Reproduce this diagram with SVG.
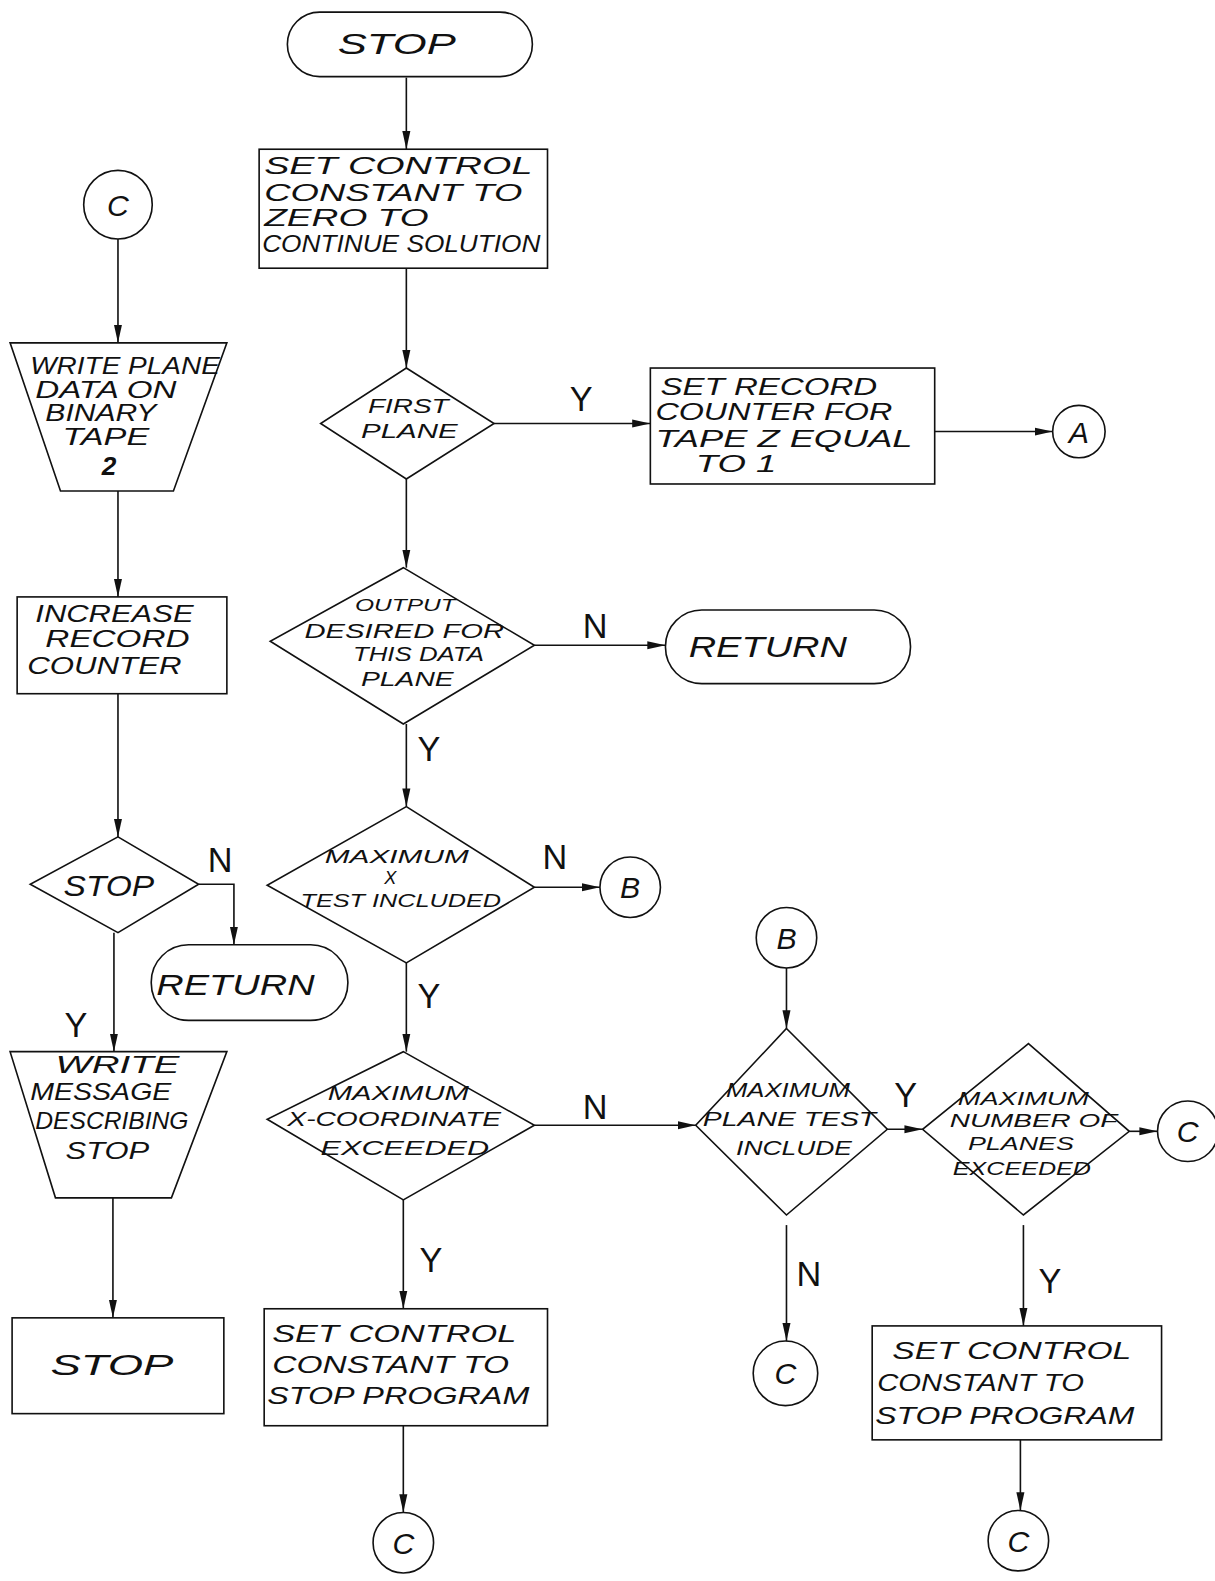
<svg xmlns="http://www.w3.org/2000/svg" width="1215" height="1581" viewBox="0 0 1215 1581">
<style>
.s{fill:none;stroke:#111;stroke-width:1.6}
.t{font-family:"Liberation Sans",Arial,sans-serif;font-style:italic;font-size:23px;fill:#111}
.d{font-size:20px}
.b{font-size:30px}
.l{font-family:"Liberation Sans",Arial,sans-serif;font-size:34px;fill:#111}
.c{fill:none;stroke:#111;stroke-width:1.6}
.a{fill:none;stroke:#111;stroke-width:1.6;marker-end:url(#ah)}
</style>
<defs>
<marker id="ah" markerUnits="userSpaceOnUse" markerWidth="20" markerHeight="10" refX="18" refY="5" orient="auto">
<path d="M0,1 L18,5 L0,9 z" fill="#111"/>
</marker>
</defs>
<rect width="1215" height="1581" fill="#fff"/>
<g transform="scale(1.0083)">
<g id="connectors">
<path class="a" d="M403,77 V148"/>
<path class="a" d="M403,266 V365"/>
<path class="a" d="M490,420 H645"/>
<path class="a" d="M927,428 H1044"/>
<path class="a" d="M403,475 V563"/>
<path class="a" d="M530,640 H660"/>
<path class="a" d="M403,718 V800"/>
<path class="a" d="M530,880 H595"/>
<path class="a" d="M403,955 V1043"/>
<path class="a" d="M530,1116 H690"/>
<path class="a" d="M400,1190 V1298"/>
<path class="a" d="M400,1414 V1500"/>
<path class="a" d="M117,237 V340"/>
<path class="a" d="M117,487 V592"/>
<path class="a" d="M117,688 V830"/>
<path class="a" d="M197,877 H232 V937"/>
<path class="a" d="M113,925 V1043"/>
<path class="a" d="M112,1188 V1307"/>
<path class="a" d="M780,960 V1020"/>
<path class="a" d="M880,1120 H915"/>
<path class="a" d="M1120,1122 H1148"/>
<path class="a" d="M780,1215 V1330"/>
<path class="a" d="M1015,1215 V1315"/>
<path class="a" d="M1012,1428 V1498"/>
<text class="l" x="565" y="408">Y</text>
<text class="l" x="578" y="633">N</text>
<text class="l" x="414" y="755">Y</text>
<text class="l" x="538" y="862">N</text>
<text class="l" x="206" y="865">N</text>
<text class="l" x="414" y="1000">Y</text>
<text class="l" x="64" y="1028">Y</text>
<text class="l" x="578" y="1110">N</text>
<text class="l" x="887" y="1098">Y</text>
<text class="l" x="416" y="1262">Y</text>
<text class="l" x="790" y="1275">N</text>
<text class="l" x="1030" y="1282">Y</text>
</g>
<g id="stop-top">
<rect class="s" x="285" y="12" width="243" height="64" rx="32"/>
<text class="t b" x="335" y="54" textLength="117" lengthAdjust="spacingAndGlyphs">STOP</text>
</g>
<g id="set-control-zero">
<rect class="s" x="257" y="148" width="286" height="118"/>
<text class="t" x="262" y="173" textLength="266" lengthAdjust="spacingAndGlyphs">SET CONTROL</text>
<text class="t" x="262" y="199" textLength="256" lengthAdjust="spacingAndGlyphs">CONSTANT TO</text>
<text class="t" x="262" y="224" textLength="163" lengthAdjust="spacingAndGlyphs">ZERO TO</text>
<text class="t" x="260" y="250" textLength="276" lengthAdjust="spacingAndGlyphs">CONTINUE SOLUTION</text>
</g>
<g id="first-plane">
<polygon class="s" points="403,365 490,420 403,475 318,420"/>
<text class="t d" x="365" y="410" textLength="80" lengthAdjust="spacingAndGlyphs">FIRST</text>
<text class="t d" x="358" y="434" textLength="96" lengthAdjust="spacingAndGlyphs">PLANE</text>
</g>
<g id="set-record-counter">
<rect class="s" x="645" y="365" width="282" height="115"/>
<text class="t" x="655" y="392" textLength="215" lengthAdjust="spacingAndGlyphs">SET RECORD</text>
<text class="t" x="650" y="417" textLength="235" lengthAdjust="spacingAndGlyphs">COUNTER FOR</text>
<text class="t" x="650" y="443" textLength="255" lengthAdjust="spacingAndGlyphs">TAPE Z EQUAL</text>
<text class="t" x="690" y="468" textLength="80" lengthAdjust="spacingAndGlyphs">TO 1</text>
</g>
<g id="connector-a">
<circle class="c" cx="1070" cy="428" r="26"/>
<text class="t b" x="1070" y="439" text-anchor="middle">A</text>
</g>
<g id="connector-c-top">
<circle class="c" cx="117" cy="203" r="34"/>
<text class="t b" x="117" y="214" text-anchor="middle">C</text>
</g>
<g id="write-plane-data">
<polygon class="s" points="10,340 225,340 172,487 60,487"/>
<text class="t" x="30" y="371" textLength="188" lengthAdjust="spacingAndGlyphs">WRITE PLANE</text>
<text class="t" x="35" y="395" textLength="140" lengthAdjust="spacingAndGlyphs">DATA ON</text>
<text class="t" x="45" y="418" textLength="110" lengthAdjust="spacingAndGlyphs">BINARY</text>
<text class="t" x="62" y="441" textLength="86" lengthAdjust="spacingAndGlyphs">TAPE</text>
<text class="t" x="101" y="471" style="font-size:26px;font-weight:bold">2</text>
</g>
<g id="increase-record-counter">
<rect class="s" x="17" y="592" width="208" height="96"/>
<text class="t" x="35" y="617" textLength="157" lengthAdjust="spacingAndGlyphs">INCREASE</text>
<text class="t" x="45" y="642" textLength="143" lengthAdjust="spacingAndGlyphs">RECORD</text>
<text class="t" x="27" y="668" textLength="153" lengthAdjust="spacingAndGlyphs">COUNTER</text>
</g>
<g id="output-desired">
<polygon class="s" points="400,563 530,640 400,718 268,636"/>
<text class="t d" x="352" y="606" textLength="100" lengthAdjust="spacingAndGlyphs" style="font-size:17px">OUTPUT</text>
<text class="t d" x="302" y="633" textLength="198" lengthAdjust="spacingAndGlyphs">DESIRED FOR</text>
<text class="t d" x="350" y="656" textLength="130" lengthAdjust="spacingAndGlyphs">THIS DATA</text>
<text class="t d" x="358" y="680" textLength="92" lengthAdjust="spacingAndGlyphs">PLANE</text>
</g>
<g id="return-right">
<rect class="s" x="660" y="605" width="243" height="73" rx="36"/>
<text class="t b" x="683" y="652" textLength="157" lengthAdjust="spacingAndGlyphs">RETURN</text>
</g>
<g id="stop-decision">
<polygon class="s" points="117,830 197,877 117,925 30,877"/>
<text class="t b" x="63" y="889" textLength="90" lengthAdjust="spacingAndGlyphs">STOP</text>
</g>
<g id="return-left">
<rect class="s" x="150" y="937" width="195" height="75" rx="37"/>
<text class="t b" x="155" y="987" textLength="157" lengthAdjust="spacingAndGlyphs">RETURN</text>
</g>
<g id="max-x-test">
<polygon class="s" points="403,800 530,880 403,955 265,878"/>
<text class="t" x="322" y="856" textLength="143" lengthAdjust="spacingAndGlyphs" style="font-size:18px">MAXIMUM</text>
<text class="t" x="381" y="877" style="font-size:18px">X</text>
<text class="t" x="298" y="900" textLength="199" lengthAdjust="spacingAndGlyphs" style="font-size:18px">TEST INCLUDED</text>
</g>
<g id="connector-b-out">
<circle class="c" cx="625" cy="880" r="30"/>
<text class="t b" x="625" y="891" text-anchor="middle">B</text>
</g>
<g id="write-message">
<polygon class="s" points="10,1043 225,1043 170,1188 55,1188"/>
<text class="t" x="55" y="1064" textLength="123" lengthAdjust="spacingAndGlyphs">WRITE</text>
<text class="t" x="30" y="1091" textLength="140" lengthAdjust="spacingAndGlyphs">MESSAGE</text>
<text class="t" x="35" y="1120" textLength="152" lengthAdjust="spacingAndGlyphs">DESCRIBING</text>
<text class="t" x="65" y="1149" textLength="83" lengthAdjust="spacingAndGlyphs">STOP</text>
</g>
<g id="stop-box">
<rect class="s" x="12" y="1307" width="210" height="95"/>
<text class="t b" x="50" y="1364" textLength="122" lengthAdjust="spacingAndGlyphs">STOP</text>
</g>
<g id="max-x-coordinate">
<polygon class="s" points="400,1043 530,1116 400,1190 265,1110"/>
<text class="t d" x="325" y="1091" textLength="140" lengthAdjust="spacingAndGlyphs">MAXIMUM</text>
<text class="t d" x="285" y="1117" textLength="212" lengthAdjust="spacingAndGlyphs">X-COORDINATE</text>
<text class="t d" x="318" y="1145" textLength="167" lengthAdjust="spacingAndGlyphs">EXCEEDED</text>
</g>
<g id="set-control-stop-mid">
<rect class="s" x="262" y="1298" width="281" height="116"/>
<text class="t" x="270" y="1331" textLength="242" lengthAdjust="spacingAndGlyphs">SET CONTROL</text>
<text class="t" x="270" y="1362" textLength="235" lengthAdjust="spacingAndGlyphs">CONSTANT TO</text>
<text class="t" x="265" y="1392" textLength="260" lengthAdjust="spacingAndGlyphs">STOP PROGRAM</text>
</g>
<g id="connector-c-mid">
<circle class="c" cx="400" cy="1530" r="30"/>
<text class="t b" x="400" y="1541" text-anchor="middle">C</text>
</g>
<g id="connector-b-in">
<circle class="c" cx="780" cy="930" r="30"/>
<text class="t b" x="780" y="941" text-anchor="middle">B</text>
</g>
<g id="max-plane-test">
<polygon class="s" points="780,1020 880,1120 780,1205 690,1116"/>
<text class="t d" x="720" y="1088" textLength="123" lengthAdjust="spacingAndGlyphs">MAXIMUM</text>
<text class="t d" x="697" y="1117" textLength="172" lengthAdjust="spacingAndGlyphs">PLANE TEST</text>
<text class="t d" x="730" y="1145" textLength="115" lengthAdjust="spacingAndGlyphs">INCLUDE</text>
</g>
<g id="max-number-planes">
<polygon class="s" points="1020,1035 1120,1122 1015,1205 915,1120"/>
<text class="t" x="950" y="1096" textLength="130" lengthAdjust="spacingAndGlyphs" style="font-size:18px">MAXIMUM</text>
<text class="t" x="942" y="1118" textLength="166" lengthAdjust="spacingAndGlyphs" style="font-size:18px">NUMBER OF</text>
<text class="t" x="960" y="1141" textLength="105" lengthAdjust="spacingAndGlyphs" style="font-size:18px">PLANES</text>
<text class="t" x="945" y="1165" textLength="137" lengthAdjust="spacingAndGlyphs" style="font-size:18px">EXCEEDED</text>
</g>
<g id="connector-c-right">
<circle class="c" cx="1178" cy="1122" r="30"/>
<text class="t b" x="1178" y="1133" text-anchor="middle">C</text>
</g>
<g id="connector-c-planetest">
<circle class="c" cx="779" cy="1362" r="32"/>
<text class="t b" x="779" y="1373" text-anchor="middle">C</text>
</g>
<g id="set-control-stop-right">
<rect class="s" x="865" y="1315" width="287" height="113"/>
<text class="t" x="885" y="1348" textLength="237" lengthAdjust="spacingAndGlyphs">SET CONTROL</text>
<text class="t" x="870" y="1380" textLength="205" lengthAdjust="spacingAndGlyphs">CONSTANT TO</text>
<text class="t" x="868" y="1412" textLength="257" lengthAdjust="spacingAndGlyphs">STOP PROGRAM</text>
</g>
<g id="connector-c-bottom-right">
<circle class="c" cx="1010" cy="1528" r="30"/>
<text class="t b" x="1010" y="1539" text-anchor="middle">C</text>
</g>
</g>
</svg>
